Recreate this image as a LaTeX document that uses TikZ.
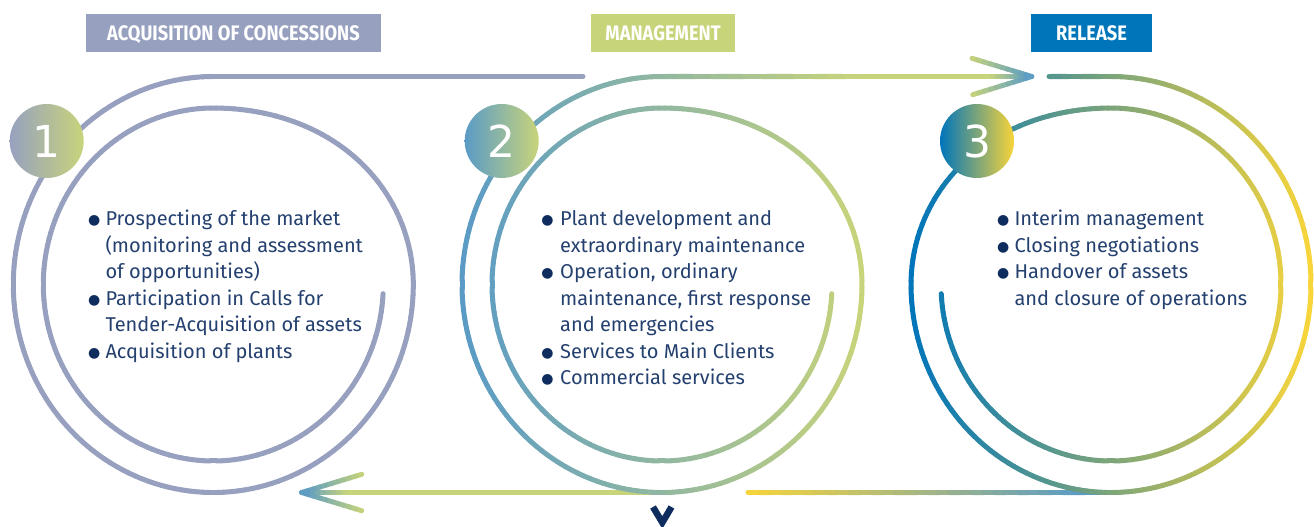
\documentclass[tikz,border=0pt]{standalone}
\usepackage{fontspec}
\setmainfont{Fira Sans}
\newfontfamily\numfont{DejaVu Sans}
\newfontfamily\dejavu{DejaVu Sans}
\usetikzlibrary{calc}
\definecolor{cA}{HTML}{97A1BF}
\definecolor{cG}{HTML}{C8D47A}
\definecolor{cB}{HTML}{5A9BC6}
\definecolor{cD}{HTML}{0075BA}
\definecolor{cY}{HTML}{F8D53A}
\definecolor{txt}{HTML}{24406F}
\definecolor{navy}{HTML}{0E2C5E}
\colorlet{cBG}{cG!50!cB}
\colorlet{cDYa}{cY!50!cD}
\colorlet{cDYb}{cY!34!cD}
\newcommand{\bul}[1]{\makebox[#1][l]{\raisebox{1.2pt}{\color{navy}\dejavu\fontsize{14}{14}\selectfont ●}}}
% gradient spiral: cx, cy, mirror, colL, colR, xL, xR
\newcommand{\gspiral}[7]{%
  \foreach \t in {3,5,...,629}{%
    \pgfmathsetmacro{\ta}{\t}%
    \pgfmathsetmacro{\tb}{min(\t+2,630)}%
    \pgfmathsetmacro{\xa}{#1+#3*rxf(\ta)*cos(\ta)}%
    \pgfmathsetmacro{\ya}{#2+ryf(\ta)*sin(\ta)}%
    \pgfmathsetmacro{\xb}{#1+#3*rxf(\tb)*cos(\tb)}%
    \pgfmathsetmacro{\yb}{#2+ryf(\tb)*sin(\tb)}%
    \pgfmathsetmacro{\ff}{max(0,min(1,((\xa+\xb)/2-#6)/(#7-#6)))}%
    \pgfmathtruncatemacro{\f}{round(100*\ff)}%
    \draw[ring, color=#5!\f!#4] (\xa,\ya) -- (\xb,\yb);
  }%
}
% gradient line between named coordinates
\newcommand{\gline}[5]{%
  \foreach \i in {1,...,#5}{%
    \pgfmathsetmacro{\fa}{(\i-1)/#5}%
    \pgfmathsetmacro{\fb}{\i/#5}%
    \pgfmathtruncatemacro{\pc}{round(100*(\i-0.5)/#5)}%
    \draw[ring, color=#4!\pc!#3] ($(#1)!\fa!(#2)$) -- ($(#1)!\fb!(#2)$);
  }%
}
\begin{document}
\begin{tikzpicture}[x=1pt,y=-1pt,
  declare function={ss(\t)=(1-cos(180*max(0,min(1,(\t-270)/90))))/2; rxf(\t)=170+30*ss(\t); ryf(\t)=176.5+31.5*ss(\t);},
  ring/.style={line width=5pt,line cap=round},
  hdr/.style={fill=#1, text=white, inner sep=0pt, minimum height=38pt, text height=14.5pt, text depth=0pt, font=\bfseries\fontsize{21}{21}\selectfont},
  badge/.style={circle, minimum size=74pt, inner sep=0pt, text=white, font=\numfont\fontsize{44}{44}\selectfont},
  body/.style={inner sep=0pt, text=txt, font=\fontsize{20}{26.5}\selectfont, anchor=base west},
]
\useasboundingbox (0,0) rectangle (1314,527);

% key coordinates
\coordinate (c1top) at (213.3,76.5);
\coordinate (l1end) at (583,76.5);
\coordinate (c2top) at (662,76.5);
\coordinate (m2) at (862,76.5);
\coordinate (a1s) at (992,76.5);
\coordinate (a1tip) at (1031.7,76.5);
\coordinate (a1u) at (972,58.3);
\coordinate (a1d) at (972.7,94.7);
\coordinate (c3top) at (1111,76.5);
\coordinate (l3end) at (1049,76.5);
\coordinate (c2bot) at (662,492.5);
\coordinate (b1s) at (345,492.5);
\coordinate (b1tip) at (301.7,492.5);
\coordinate (b1u) at (361.7,474.3);
\coordinate (b1d) at (361.7,510.7);
\coordinate (b2s) at (748,492.5);
\coordinate (b2m) at (1085,492.5);
\coordinate (c3bot) at (1111,492.5);

% connecting lines
\draw[ring, cA] (c1top) -- (l1end);
\gline{c2top}{m2}{cBG}{cG}{12}
\draw[ring, cG] (m2) -- (a1s);
\gline{a1s}{a1tip}{cG}{cB}{8}
\gline{a1u}{a1tip}{cG}{cB}{10}
\gline{a1d}{a1tip}{cG}{cB}{10}
\gline{c3top}{l3end}{cDYa}{cDYb}{6}
\draw[ring, cG] (c2bot) -- (b1s);
\gline{b1s}{b1tip}{cG}{cB}{8}
\gline{b1u}{b1tip}{cG}{cB}{10}
\gline{b1d}{b1tip}{cG}{cB}{10}
\gline{b2s}{b2m}{cY}{cB}{30}
\draw[ring, cB] (b2m) -- (c3bot);

% spirals
\gspiral{213.3}{284.5}{1}{cA}{cA}{0}{1400}
\gspiral{662}{284.5}{1}{cB}{cG}{462}{862}
\gspiral{1111}{284.5}{-1}{cD}{cY}{912}{1310}

% badges
\node[badge, left color=cA, right color=cG] (n1) at (46.7,141) {1};
\node[badge, left color=cB, right color=cG] (n2) at (501.7,141) {2};
\node[badge, left color=cD, right color=cY] (n3) at (977,141) {3};

% headers
\node[hdr=cA, minimum width=295pt] (h1) at (233.5,33) {\scalebox{0.87}[1]{ACQUISITION OF CONCESSIONS}};
\node[hdr=cG, minimum width=144pt] (h2) at (663,33) {\scalebox{0.87}[1]{MANAGEMENT}};
\node[hdr=cD, minimum width=121pt] (h3) at (1091.5,33) {\scalebox{0.87}[1]{RELEASE}};

% texts
\node[body] (t1) at (87.9,225.7) {\begin{tabular}[t]{@{}l@{}l@{}}
\bul{17.4pt} & Prospecting of the market\\
 & (monitoring and assessment\\
 & of opportunities)\\
\bul{17.4pt} & Participation in Calls for\\
 & Tender-Acquisition of assets\\
\bul{17.4pt} & Acquisition of plants
\end{tabular}};
\node[body] (t2) at (541.2,225.7) {\begin{tabular}[t]{@{}l@{}l@{}}
\bul{18.8pt} & Plant development and\\
 & extraordinary maintenance\\
\bul{18.8pt} & Operation, ordinary\\
 & maintenance, first response\\
 & and emergencies\\
\bul{18.8pt} & Services to Main Clients\\
\bul{18.8pt} & Commercial services
\end{tabular}};
\node[body] (t3) at (996.9,225.7) {\begin{tabular}[t]{@{}l@{}l@{}}
\bul{17.4pt} & Interim management\\
\bul{17.4pt} & Closing negotiations\\
\bul{17.4pt} & Handover of assets\\
 & and closure of operations
\end{tabular}};

% scroll chevron
\coordinate (v1) at (653,507);
\coordinate (v2) at (662.3,522.5);
\coordinate (v3) at (671.5,507);
\draw[navy, line width=6.5pt] (v1) -- (v2) -- (v3);
\end{tikzpicture}
\end{document}
